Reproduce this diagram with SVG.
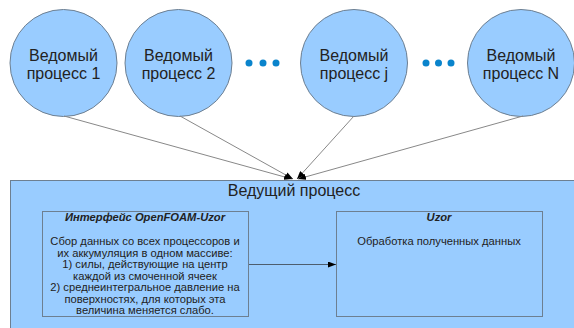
<svg xmlns="http://www.w3.org/2000/svg" width="574" height="328" viewBox="0 0 574 328">
  <defs>
    <marker id="arr" markerWidth="8" markerHeight="6" refX="8" refY="3" orient="auto" markerUnits="userSpaceOnUse">
      <path d="M0,0 L8,3 L0,6 Z" fill="#000"/>
    </marker>
    <style>
      .proc { fill: #99ccff; stroke: #6d7f91; stroke-width: 1; }
      .lbl { font-family: "Liberation Sans", Arial, sans-serif; font-size: 16px; fill: #222; text-anchor: middle; }
      .dot { fill: #0a84cc; }
      .box { fill: #99ccff; stroke: #6d7f91; stroke-width: 1; }
      .txt { font-family: "Liberation Sans", Arial, sans-serif; font-size: 11.2px; fill: #222; text-anchor: middle; }
      .hd { font-weight: bold; font-style: italic; }
      .conn { stroke: #888; stroke-width: 1; fill: none; marker-end: url(#arr); }
      .flow { stroke: #4d5d6e; stroke-width: 1; fill: none; marker-end: url(#arr); }
    </style>
  </defs>

  <!-- master process container -->
  <g id="master">
    <rect class="box" x="10.5" y="180.5" width="570" height="160"/>
    <text x="294" y="196" font-family="Liberation Sans, Arial, sans-serif" font-size="16" fill="#222" text-anchor="middle">Ведущий процесс</text>
  </g>

  <g id="iface">
    <rect class="box" x="42.5" y="211.5" width="206" height="105"/>
    <text class="txt hd" x="145" y="221">Интерфейс OpenFOAM-Uzor</text>
    <text class="txt" x="145" y="245">Сбор данных со всех процессоров и</text>
    <text class="txt" x="145" y="256.5">их аккумуляция в одном массиве:</text>
    <text class="txt" x="145" y="268">1) силы, действующие на центр</text>
    <text class="txt" x="145" y="279.5">каждой из смоченной ячеек</text>
    <text class="txt" x="145" y="291">2) среднеинтегральное давление на</text>
    <text class="txt" x="145" y="302.5">поверхностях, для которых эта</text>
    <text class="txt" x="145" y="314">величина меняется слабо.</text>
  </g>

  <g id="uzor">
    <rect class="box" x="336.5" y="211.5" width="206" height="105"/>
    <text class="txt hd" x="439" y="221">Uzor</text>
    <text class="txt" x="439" y="245">Обработка полученных данных</text>
  </g>

  <!-- slave processes -->
  <g id="slave1">
    <circle class="proc" cx="63.5" cy="63" r="53.5"/>
    <text class="lbl" x="63.5" y="61">Ведомый</text>
    <text class="lbl" x="63.5" y="79">процесс 1</text>
  </g>
  <g id="slave2">
    <circle class="proc" cx="178.5" cy="63" r="53.5"/>
    <text class="lbl" x="178.5" y="61">Ведомый</text>
    <text class="lbl" x="178.5" y="79">процесс 2</text>
  </g>
  <g id="slavej">
    <circle class="proc" cx="354" cy="63" r="53.5"/>
    <text class="lbl" x="354" y="61">Ведомый</text>
    <text class="lbl" x="354" y="79">процесс j</text>
  </g>
  <g id="slaveN">
    <circle class="proc" cx="521" cy="63" r="53.5"/>
    <text class="lbl" x="521" y="61">Ведомый</text>
    <text class="lbl" x="521" y="79">процесс N</text>
  </g>

  <g id="ellipsis1">
    <circle class="dot" cx="249" cy="63" r="3.5"/>
    <circle class="dot" cx="263" cy="63" r="3.5"/>
    <circle class="dot" cx="276" cy="63" r="3.5"/>
  </g>
  <g id="ellipsis2">
    <circle class="dot" cx="426" cy="63" r="3.5"/>
    <circle class="dot" cx="438.5" cy="63" r="3.5"/>
    <circle class="dot" cx="451" cy="63" r="3.5"/>
  </g>

  <g id="connectors">
    <line class="conn" x1="64" y1="116" x2="292" y2="179"/>
    <line class="conn" x1="180" y1="116" x2="293" y2="179"/>
    <line class="conn" x1="354" y1="116" x2="297" y2="179"/>
    <line class="conn" x1="523" y1="116" x2="298" y2="179"/>
    <line class="flow" x1="249" y1="264.5" x2="336" y2="264.5"/>
  </g>
</svg>
